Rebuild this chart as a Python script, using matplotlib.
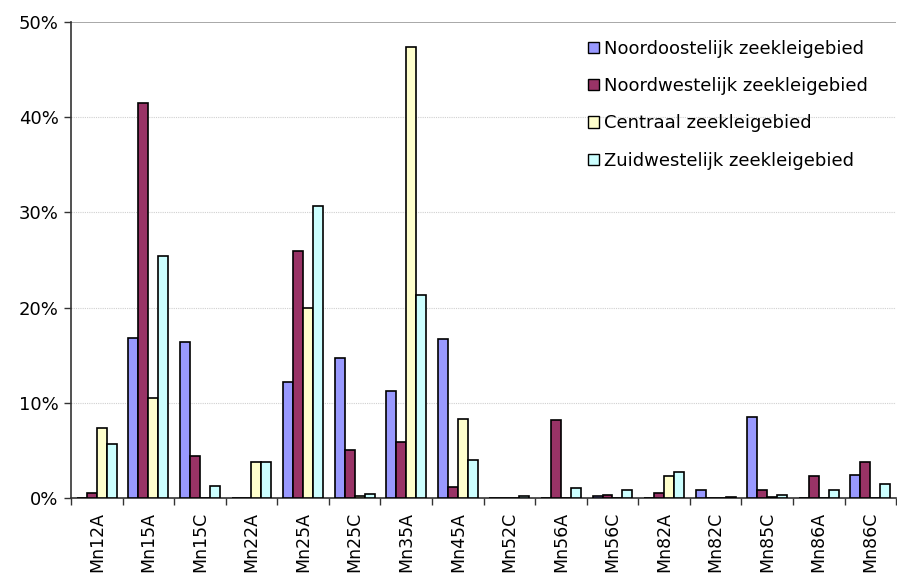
import matplotlib
matplotlib.use("Agg")
import matplotlib.pyplot as plt
import numpy as np
from matplotlib.ticker import FuncFormatter, MultipleLocator

plt.rcParams['font.family'] = ['DejaVu Sans']

categories = ["Mn12A", "Mn15A", "Mn15C", "Mn22A", "Mn25A", "Mn25C", "Mn35A", "Mn45A",
              "Mn52C", "Mn56A", "Mn56C", "Mn82A", "Mn82C", "Mn85C", "Mn86A", "Mn86C"]
series_names = ["Noordoostelijk zeekleigebied", "Noordwestelijk zeekleigebied",
                "Centraal zeekleigebied", "Zuidwestelijk zeekleigebied"]
noordoost = [0.0, 16.8, 16.4, 0.0, 12.2, 14.7, 11.2, 16.7, 0.05, 0.0, 0.2, 0.0, 0.87, 8.55, 0.0, 2.4]
noordwest = [0.5, 41.5, 4.4, 0.05, 25.9, 5.0, 5.85, 1.2, 0.0, 8.2, 0.3, 0.5, 0.0, 0.87, 2.27, 3.8]
centraal = [7.4, 10.5, 0.0, 3.8, 20.0, 0.25, 47.4, 8.3, 0.05, 0.0, 0.0, 2.3, 0.0, 0.1, 0.0, 0.0]
zuidwest = [5.7, 25.4, 1.26, 3.8, 30.7, 0.45, 21.3, 4.0, 0.2, 1.05, 0.87, 2.7, 0.1, 0.3, 0.87, 1.5]
colors = ["#9999FF", "#993366", "#FFFFCC", "#CCFFFF"]

fig = plt.figure(figsize=(8.97, 5.75), dpi=100)
ax = fig.add_axes([71/897, 1 - 498/575, 1 - 71/897 - 0.001, (498 - 22)/575])

x = np.arange(len(categories))
w = 0.193
for i, (vals, c, name) in enumerate(zip([noordoost, noordwest, centraal, zuidwest], colors, series_names)):
    ax.bar(x + (i - 1.5) * w, vals, width=w, color=c, edgecolor="black", linewidth=1.2, label=name, zorder=3)

ax.set_xlim(-0.5, len(categories) - 0.5)
ax.set_ylim(0, 50)
ax.yaxis.set_major_locator(MultipleLocator(10))
ax.yaxis.set_major_formatter(FuncFormatter(lambda v, p: f"{v:.0f}%"))
for yv in [10, 20, 30, 40]:
    ax.axhline(yv, color="#d0d0d0", linestyle=(0, (1, 1)), linewidth=0.8, zorder=0)
ax.axhline(50, color="#999999", linewidth=1.2, zorder=0)
ax.set_xticks(x)
ax.set_xticklabels(categories, rotation=90, fontsize=12.5)
ax.set_xticks(np.arange(-0.5, len(categories), 1), minor=True)
ax.tick_params(axis="x", which="major", length=0, pad=10)
ax.tick_params(axis="x", which="minor", length=5, width=1, color="#333333")
ax.tick_params(axis="y", length=5, width=1, labelsize=13, color="#333333", pad=4)
for s in ["top", "right"]:
    ax.spines[s].set_visible(False)
for s in ["left", "bottom"]:
    ax.spines[s].set_color("#333333")
    ax.spines[s].set_linewidth(1.2)

leg = ax.legend(loc="upper left", bbox_to_anchor=(0.607, 0.997), frameon=False, fontsize=13,
                handlelength=0.6, handleheight=0.6, handletextpad=0.3, labelspacing=1.07)
for h in leg.legend_handles:
    h.set_linewidth(1.0)

fig.savefig("out.png", dpi=100)
